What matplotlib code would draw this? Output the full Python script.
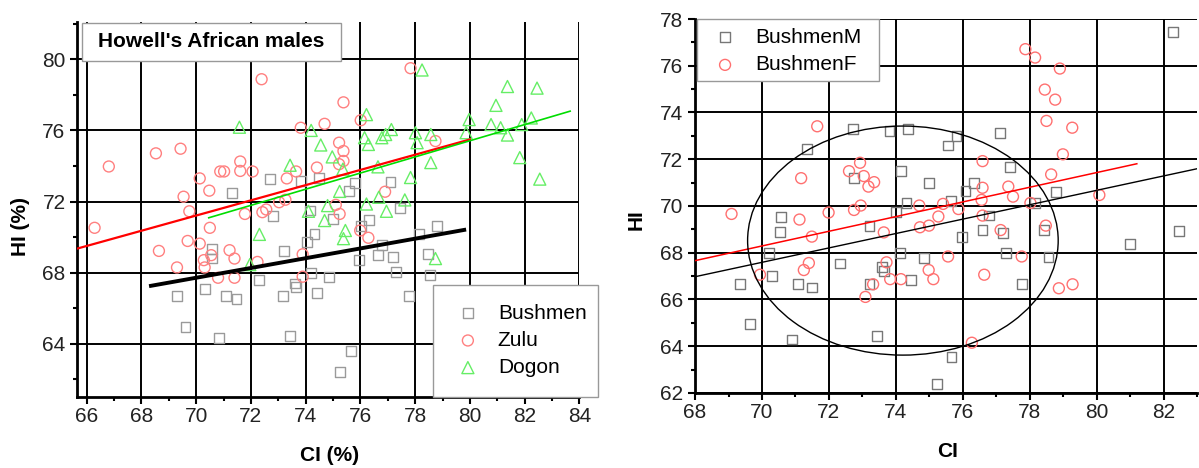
import numpy as np
import matplotlib
matplotlib.use("Agg")
import matplotlib.pyplot as plt
import matplotlib.ticker as mticker
from matplotlib.patches import Ellipse, Rectangle

plt.rcParams["font.family"] = ["Liberation Sans", "DejaVu Sans"]

# ---------------------------------------------------------------- left panel data
bush_ci = [72.71, 71.30, 72.80, 74.49, 73.82, 75.80, 75.59, 77.10, 77.43, 75.01,
           74.15, 76.31, 74.06, 74.32, 76.01, 75.94, 76.78, 76.64, 77.20, 77.31,
           78.14, 78.81, 78.46, 78.53, 77.76, 74.85, 74.41, 74.18, 73.61, 73.64,
           73.22, 73.17, 72.31, 71.08, 71.47, 70.31, 70.57, 70.57, 69.31, 69.61,
           70.83, 73.43, 75.66, 75.24]
bush_hi = [73.26, 72.48, 71.17, 73.31, 73.17, 73.05, 72.61, 73.11, 71.64, 71.02,
           71.49, 70.97, 69.74, 70.15, 70.60, 68.70, 69.53, 68.98, 68.88, 68.04,
           70.19, 70.60, 69.03, 67.86, 66.69, 67.77, 66.83, 67.99, 67.39, 67.21,
           69.22, 66.69, 67.58, 66.69, 66.50, 67.06, 69.35, 68.79, 66.69, 64.93,
           64.30, 64.41, 63.58, 62.40]

zulu_ci = [66.29, 66.81, 68.53, 69.43, 69.54, 69.75, 70.13, 70.48, 70.50, 69.69,
           68.64, 69.30, 70.13, 70.28, 70.31, 70.55, 70.80, 71.40, 71.22, 71.40,
           70.88, 71.02, 71.61, 71.61, 71.78, 72.06, 72.39, 72.42, 72.56, 72.24,
           73.03, 73.26, 73.31, 73.65, 73.82, 73.89, 73.89, 74.41, 74.69, 75.10,
           75.24, 75.22, 75.38, 75.38, 75.22, 75.38, 76.01, 75.99, 76.29, 76.90,
           77.83, 78.74]
zulu_hi = [70.52, 73.97, 74.71, 74.97, 72.27, 71.45, 73.30, 72.61, 70.52, 69.78,
           69.22, 68.29, 69.63, 68.70, 68.29, 68.98, 67.71, 67.71, 69.26, 68.79,
           73.69, 73.69, 74.25, 73.72, 71.30, 73.69, 78.88, 71.40, 71.55, 68.60,
           71.96, 72.10, 73.30, 73.69, 76.15, 69.03, 67.77, 73.91, 76.37, 71.81,
           71.30, 75.31, 74.84, 74.28, 74.10, 77.58, 76.57, 70.37, 69.96, 72.55,
           79.50, 75.40]

dogon_ci = [71.58, 72.31, 71.96, 73.43, 74.10, 74.20, 74.55, 74.80, 74.69, 74.97,
            75.24, 75.36, 75.45, 75.38, 76.22, 76.15, 76.29, 76.22, 76.64, 76.67,
            76.78, 76.92, 77.13, 76.95, 77.62, 78.01, 78.07, 77.83, 78.25, 78.57,
            78.57, 78.74, 79.97, 79.86, 80.77, 80.95, 81.12, 81.37, 81.37, 81.82,
            81.89, 82.24, 82.45, 82.55]
dogon_hi = [76.18, 70.15, 68.45, 74.04, 71.45, 76.00, 75.18, 71.77, 70.93, 74.51,
            72.57, 73.82, 70.37, 69.91, 76.89, 75.59, 75.21, 71.86, 73.95, 72.24,
            75.59, 75.77, 76.05, 71.45, 72.09, 75.87, 75.31, 73.35, 79.40, 75.77,
            74.19, 68.79, 76.61, 75.87, 76.33, 77.41, 76.15, 75.74, 78.47, 74.47,
            76.33, 76.70, 78.38, 73.26]

# fitted lines: (slope, intercept, x from, x to)
fit_zulu = (0.428, 41.25, 65.66, 80.0)
fit_dogon = (0.4545, 39.06, 70.46, 83.66)
fit_bush = (0.275, 48.46, 68.35, 79.79)

# ---------------------------------------------------------------- right panel data
bm_ci = [82.28, 82.46, 81.00, 77.11, 77.42, 78.79, 78.16, 78.42, 78.56, 77.76,
         77.30, 77.19, 76.79, 76.59, 76.33, 76.08, 75.98, 75.64, 75.55, 75.81,
         74.98, 74.84, 74.44, 74.36, 74.32, 74.15, 74.13, 74.01, 73.81, 73.58,
         73.64, 73.21, 73.21, 73.44, 72.72, 72.75, 72.32, 71.34, 71.49, 71.08,
         70.31, 70.22, 70.58, 70.54, 69.34, 69.63, 70.89, 75.66, 75.24]
bm_hi = [77.43, 68.92, 68.37, 73.14, 71.66, 70.59, 70.12, 68.97, 67.83, 66.66,
         67.99, 68.84, 69.59, 68.97, 70.98, 70.63, 68.69, 70.23, 72.59, 72.98,
         70.99, 67.77, 66.83, 73.28, 70.13, 71.49, 67.99, 69.73, 73.21, 67.40,
         67.23, 66.68, 69.16, 64.44, 73.31, 71.20, 67.54, 72.45, 66.51, 66.65,
         67.01, 67.99, 69.52, 68.87, 66.65, 64.94, 64.29, 63.54, 62.39]

bf_ci = [69.09, 69.94, 71.17, 71.12, 71.49, 71.40, 71.25, 71.65, 71.99, 72.60,
         72.93, 73.04, 73.18, 73.35, 72.75, 72.95, 73.64, 73.72, 73.83, 73.32,
         73.09, 74.15, 74.70, 74.72, 74.99, 74.98, 75.12, 75.27, 75.41, 75.87,
         75.56, 76.27, 76.59, 76.59, 76.56, 76.59, 76.64, 77.13, 77.36, 77.50,
         77.76, 78.02, 77.87, 78.16, 78.45, 78.76, 78.90, 78.50, 79.27, 78.99,
         78.64, 78.48, 78.87, 79.28, 80.08]
bf_hi = [69.66, 67.06, 71.19, 69.42, 68.69, 67.56, 67.26, 73.41, 69.72, 71.49,
         71.85, 71.28, 70.83, 71.02, 69.83, 70.02, 68.87, 67.59, 66.87, 66.65,
         66.11, 66.87, 70.02, 69.09, 69.16, 67.26, 66.87, 69.55, 70.09, 69.87,
         67.84, 64.15, 71.92, 70.78, 70.26, 69.59, 67.06, 68.97, 70.83, 70.40,
         67.84, 70.13, 76.71, 76.35, 74.98, 74.55, 75.88, 73.64, 73.35, 72.21,
         71.35, 69.16, 66.48, 66.65, 70.47]

fit_bf = (0.314, 46.31, 68.0, 81.2)
fit_bm = (0.308, 46.03, 68.0, 83.0)
# ellipse: centre x, centre y, width, height
ellipse_bm = (74.21, 68.52, 9.28, 9.8)

TICK_COL = "#222222"
FS = 15


def style_axes(ax):
    for s in ("top", "right"):
        ax.spines[s].set_visible(False)
    for s in ("left", "bottom"):
        ax.spines[s].set_linewidth(2.0)
    ax.grid(True, which="major", color="black", linewidth=1.4)
    ax.set_axisbelow(True)
    ax.tick_params(which="major", direction="out", length=5, width=1.5,
                   labelsize=FS, labelcolor=TICK_COL)
    ax.tick_params(which="minor", direction="out", length=3, width=1.5)
    ax.tick_params(axis="x", pad=2.5)


def fit_line(ax, fit, **kw):
    k, b, x0, x1 = fit
    xs = np.array([x0, x1])
    ax.plot(xs, k * xs + b, **kw)


def legend_box(ax, x, y, w, h):
    ax.add_patch(Rectangle((x, y), w, h, transform=ax.transAxes,
                           facecolor="white", edgecolor="#999999",
                           linewidth=1.0, clip_on=False, zorder=6))


fig = plt.figure(figsize=(11.99, 4.68), dpi=100)

# ---------------------------------------------------------------- left
ax1 = fig.add_axes([0.0645, 0.1517, 0.4188, 0.8013])
ax1.scatter(bush_ci, bush_hi, s=50, marker="s", facecolors="none",
            edgecolors="#9a9a9a", linewidths=1.0, label="Bushmen", zorder=3)
ax1.scatter(zulu_ci, zulu_hi, s=62, marker="o", facecolors="none",
            edgecolors="#ff8080", linewidths=1.0, label="Zulu", zorder=3)
ax1.scatter(dogon_ci, dogon_hi, s=75, marker="^", facecolors="none",
            edgecolors="#66ee66", linewidths=1.0, label="Dogon", zorder=3)
fit_line(ax1, fit_zulu, color="#ff0000", linewidth=1.6, zorder=4)
fit_line(ax1, fit_dogon, color="#00dd00", linewidth=1.2, zorder=4)
fit_line(ax1, fit_bush, color="black", linewidth=2.8, zorder=4)
ax1.set_xlim(65.66, 84)
ax1.set_ylim(61, 82.1)
ax1.xaxis.set_major_locator(mticker.MultipleLocator(2))
ax1.xaxis.set_minor_locator(mticker.MultipleLocator(1))
ax1.yaxis.set_major_locator(mticker.MultipleLocator(4))
ax1.yaxis.set_minor_locator(mticker.MultipleLocator(2))
style_axes(ax1)
ax1.set_xlabel("CI (%)", fontsize=FS, fontweight="bold")
ax1.set_ylabel("HI (%)", fontsize=FS, fontweight="bold")
ax1.xaxis.set_label_coords(0.503, -0.131)
ax1.yaxis.set_label_coords(-0.094, 0.456)
# title box
legend_box(ax1, 0.0088, 0.896, 0.5153, 0.1013)
ax1.text(0.266, 0.947, "Howell's African males", transform=ax1.transAxes,
         ha="center", va="center", fontsize=15, fontweight="bold", zorder=7)
# legend box drawn separately so its padding can match the original
legend_box(ax1, 0.7077, 0.0, 0.3291, 0.2987)
leg1 = ax1.legend(loc="upper left", bbox_to_anchor=(0.757, 0.2485),
                  borderaxespad=0, borderpad=0, fontsize=FS, frameon=False,
                  handlelength=1.0, handletextpad=0.94, labelspacing=0.39)
leg1.set_zorder(7)

# ---------------------------------------------------------------- right
ax2 = fig.add_axes([0.5797, 0.1603, 0.4187, 0.7991])
ax2.scatter(bm_ci, bm_hi, s=50, marker="s", facecolors="none",
            edgecolors="#777777", linewidths=1.0, label="BushmenM", zorder=3)
ax2.scatter(bf_ci, bf_hi, s=62, marker="o", facecolors="none",
            edgecolors="#ff7070", linewidths=1.0, label="BushmenF", zorder=3)
fit_line(ax2, fit_bf, color="#ff0000", linewidth=1.1, zorder=4)
fit_line(ax2, fit_bm, color="black", linewidth=1.0, zorder=4)
ex, ey, ew, eh = ellipse_bm
ax2.add_patch(Ellipse((ex, ey), ew, eh, fill=False, edgecolor="black",
                      linewidth=1.0, zorder=4))
ax2.set_xlim(68, 83)
ax2.set_ylim(62, 78)
ax2.xaxis.set_major_locator(mticker.MultipleLocator(2))
ax2.xaxis.set_minor_locator(mticker.MultipleLocator(1))
ax2.yaxis.set_major_locator(mticker.MultipleLocator(2))
ax2.yaxis.set_minor_locator(mticker.MultipleLocator(1))
style_axes(ax2)
ax2.set_xlabel("CI", fontsize=FS, fontweight="bold")
ax2.set_ylabel("HI", fontsize=FS, fontweight="bold")
ax2.xaxis.set_label_coords(0.502, -0.131)
ax2.yaxis.set_label_coords(-0.098, 0.4626)
legend_box(ax2, 0.004, 0.834, 0.3625, 0.166)
leg2 = ax2.legend(loc="upper left", bbox_to_anchor=(0.039, 0.9765),
                  borderaxespad=0, borderpad=0, fontsize=FS, frameon=False,
                  handlelength=1.0, handletextpad=0.94, labelspacing=0.41)
leg2.set_zorder(7)

fig.savefig("out.png", dpi=100)
